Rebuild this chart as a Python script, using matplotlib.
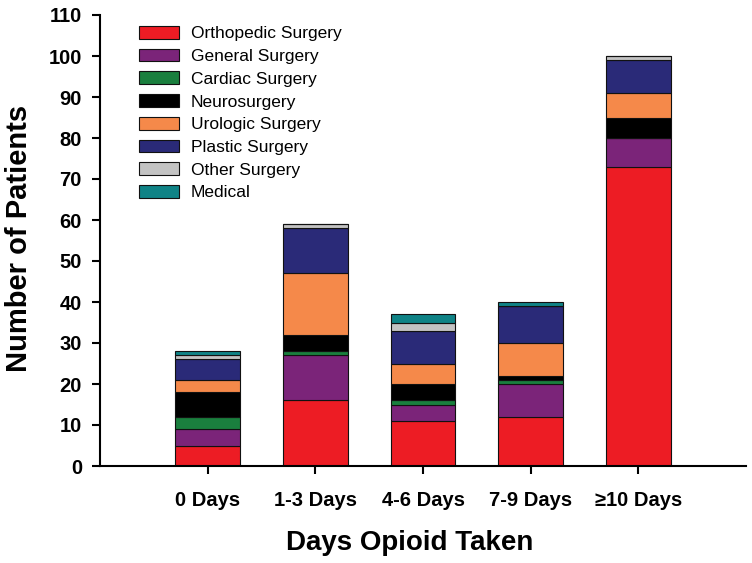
import matplotlib
matplotlib.use("Agg")
import matplotlib.pyplot as plt
import numpy as np

plt.rcParams['font.family'] = ['Liberation Sans', 'DejaVu Sans']

categories = ["0 Days", "1-3 Days", "4-6 Days", "7-9 Days", "\u226510 Days"]
series_names = ["Orthopedic Surgery", "General Surgery", "Cardiac Surgery", "Neurosurgery",
                "Urologic Surgery", "Plastic Surgery", "Other Surgery", "Medical"]
orthopedic = [5, 16, 11, 12, 73]
general = [4, 11, 4, 8, 7]
cardiac = [3, 1, 1, 1, 0]
neuro = [6, 4, 4, 1, 5]
urologic = [3, 15, 5, 8, 6]
plastic = [5, 11, 8, 9, 8]
other = [1, 1, 2, 0, 1]
medical = [1, 0, 2, 1, 0]
colors = ["#ED1C24", "#7B2479", "#1A7F3E", "#000000", "#F5894A", "#2A2A78", "#C3C3C3", "#0F8386"]

series = [orthopedic, general, cardiac, neuro, urologic, plastic, other, medical]

W, H = 752, 563
fig = plt.figure(figsize=(W / 100, H / 100), dpi=100)
ax = fig.add_axes([100 / W, (H - 466) / H, (746 - 100) / W, (466 - 15) / H])

x = np.arange(1, len(categories) + 1)
bottom = np.zeros(len(categories))
handles = []
for name, vals, c in zip(series_names, series, colors):
    vals = np.array(vals, dtype=float)
    b = ax.bar(x, vals, 0.6, bottom=bottom, color=c, edgecolor="#111111", linewidth=0.8, label=name)
    handles.append(b)
    bottom += vals

ax.set_xlim(0, 6)
ax.set_ylim(0, 110)
ax.set_yticks(np.arange(0, 111, 10))
ax.set_xticks(x)
ax.set_xticklabels(categories)
for s in ["top", "right"]:
    ax.spines[s].set_visible(False)
for s in ["left", "bottom"]:
    ax.spines[s].set_linewidth(1.5)
ax.tick_params(axis="both", direction="out", length=6, width=1.5, labelsize=14.5)
for lbl in ax.get_xticklabels() + ax.get_yticklabels():
    lbl.set_fontweight("bold")
ax.tick_params(axis="x", pad=12)
ax.tick_params(axis="y", pad=7)

fig.text(410 / W, 1 - 550 / H, "Days Opioid Taken", fontsize=20, fontweight="bold",
         ha="center", va="baseline")
fig.text(19 / W, 1 - 238.5 / H, "Number of Patients", fontsize=21, fontweight="bold",
         ha="center", va="center", rotation=90)

leg = fig.legend(handles=handles, loc="upper left", bbox_to_anchor=(139 / W, 1 - 26 / H),
                 frameon=False, fontsize=12.5, handlelength=2.3, handleheight=0.75,
                 labelspacing=0.42, handletextpad=0.7, borderpad=0, borderaxespad=0)

fig.savefig("out.png", dpi=100)
